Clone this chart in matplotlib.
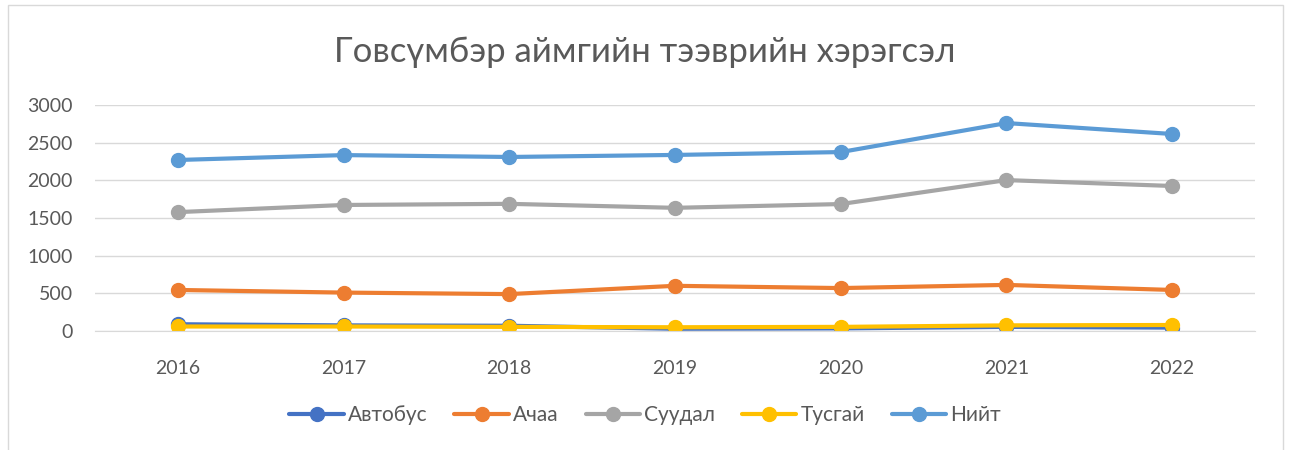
import matplotlib
matplotlib.use("Agg")
import matplotlib.pyplot as plt
from matplotlib.patches import Rectangle

# Говсүмбэр аймгийн тээврийн хэрэгсэл, 2016-2022
years = ["2016", "2017", "2018", "2019", "2020", "2021", "2022"]
avtobus = [90, 75, 70, 30, 35, 55, 45]
achaa = [545, 510, 490, 600, 570, 612, 545]
suudal = [1578, 1673, 1688, 1635, 1685, 2003, 1925]
tusgai = [60, 60, 55, 50, 55, 75, 80]
niit = [2270, 2335, 2310, 2337, 2375, 2760, 2615]

series = [
    ("Автобус", avtobus, "#4472C4"),
    ("Ачаа", achaa, "#ED7D31"),
    ("Суудал", suudal, "#A5A5A5"),
    ("Тусгай", tusgai, "#FFC000"),
    ("Нийт", niit, "#5B9BD5"),
]

plt.rcParams["font.family"] = ["Lato", "DejaVu Sans"]

fig = plt.figure(figsize=(12.9, 4.5), dpi=100)
ax = fig.add_axes([0.0736, 0.2644, 0.8993, 0.5023])

x = range(len(years))
for name, vals, col in series:
    ax.plot(x, vals, color=col, linewidth=3, marker="o", markersize=10,
            label=name, solid_capstyle="round")

ax.set_xlim(-0.5, len(years) - 0.5)
ax.set_ylim(0, 3000)
ax.set_yticks(range(0, 3001, 500))
ax.set_xticks(list(x))
ax.set_xticklabels(years)
ax.grid(axis="y", color="#D9D9D9", linewidth=1)
ax.set_axisbelow(True)
for s in ["top", "right", "left"]:
    ax.spines[s].set_visible(False)
ax.spines["bottom"].set_color("#D9D9D9")
ax.tick_params(length=0, labelsize=14, colors="#595959")
ax.tick_params(axis="y", pad=16)
ax.tick_params(axis="x", pad=21)

fig.text(0.5, 0.885, "Говсүмбэр аймгийн тээврийн хэрэгсэл", ha="center",
         va="center", fontsize=25, color="#595959")

fig.legend(loc="center", bbox_to_anchor=(0.5, 0.078), ncol=5, frameon=False,
           fontsize=15, labelcolor="#595959", handlelength=2.6,
           columnspacing=1.3, handletextpad=0.2)

fig.patches.append(Rectangle((8 / 1290, -0.01), 1275 / 1290, 1.0, transform=fig.transFigure,
                             fill=False, edgecolor="#D9D9D9", linewidth=1))

fig.savefig("out.png", dpi=100)
